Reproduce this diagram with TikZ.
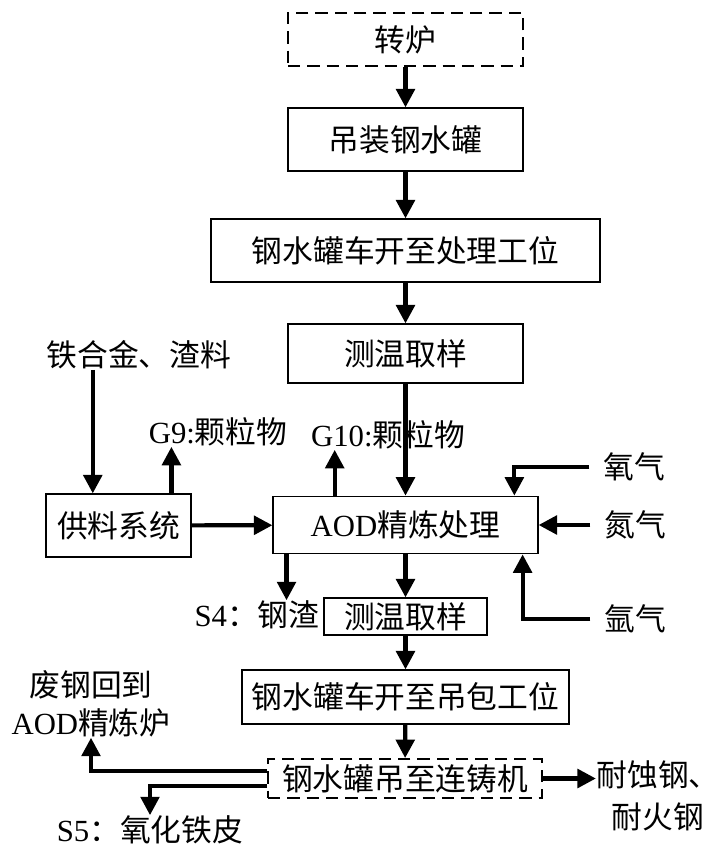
\documentclass[tikz,border=0pt]{standalone}
\usepackage{fontspec}
\setmainfont{Liberation Serif}
\newfontfamily\cjk{Noto Sans CJK SC}
\usetikzlibrary{arrows.meta, positioning, calc}
\tikzset{
  every picture/.style={font=\cjk\fontsize{17.5}{21.5}\selectfont, line width=0.7pt},
  box/.style={draw, inner sep=0pt, align=center},
  dbox/.style={box, line width=1.1pt, dash pattern=on 7pt off 4pt},
  arrow/.style={-{Triangle[length=10.5pt, width=10.5pt]}, line width=2.4pt},
  lbl/.style={inner sep=0pt, align=center},
  gas/.style={inner sep=7.5pt},
}

\begin{document}
\begin{tikzpicture}[x=0.02cm, y=-0.02cm]
  \useasboundingbox (0,0) rectangle (702,849);
  % main line
  \node[dbox, minimum width=4.7cm, minimum height=1.06cm] (zl) at (405.5,39.5) {转炉};
  \node[box, minimum width=4.7cm, minimum height=1.26cm] (dz) at (405.5,139.5) {吊装钢水罐};
  \node[box, minimum width=7.78cm, minimum height=1.26cm] (kc1) at (405.5,250.5) {钢水罐车开至处理工位};
  \node[box, minimum width=4.7cm, minimum height=1.18cm] (cw1) at (405.5,353.5) {测温取样};
  \node[box, minimum width=5.3cm, minimum height=1.15cm] (aod) at (405.5,525) {{\rmfamily AOD}精炼处理};
  \node[box, minimum width=2.9cm, minimum height=1.26cm] (feed) at (118.5,525.5) {供料系统};
  \node[box, minimum width=3.26cm, minimum height=0.74cm] (cw2) at (405.5,616.5) {测温取样};
  \node[box, minimum width=6.54cm, minimum height=1.08cm] (kc2) at (405.5,697) {钢水罐车开至吊包工位};
  \node[dbox, minimum width=5.48cm, minimum height=0.78cm] (lz) at (405,778.5) {钢水罐吊至连铸机};
  % side labels
  \node[lbl] (iron) at (139,355) {铁合金、渣料};
  \node[lbl] (g9) at (218,432) {{\rmfamily G9:}颗粒物};
  \node[lbl] (g10) at (388,435) {{\rmfamily G10:}颗粒物};
  \node[gas] (o2) at (634,467) {氧气};
  \node[gas] (n2) at (635,525) {氮气};
  \node[gas] (ar) at (635,619) {氩气};
  \node[lbl] (s4) at (257,615) {{\rmfamily S4}：钢渣};
  \node[lbl] (prod) at (658,796) {耐蚀钢、\\[0.08cm]耐火钢};
  \node[lbl] (scrap) at (91,704) {废钢回到\\{\rmfamily AOD}精炼炉};
  \node[lbl] (s5) at (150,830) {{\rmfamily S5}：氧化铁皮};
  % anchor points on the boxes
  \coordinate (feedin) at ($(feed.north west)!.324!(feed.north east)$);
  \coordinate (g9foot) at ($(feed.north west)!.862!(feed.north east)$);
  \coordinate (g10foot) at ($(aod.north west)!.234!(aod.north east)$);
  \coordinate (o2in) at ($(aod.north west)!.909!(aod.north east)$);
  \coordinate (arin) at ($(aod.south west)!.94!(aod.south east)$);
  \coordinate (slagout) at ($(aod.south west)!.053!(aod.south east)$);
  % connectors
  \draw[arrow] (zl) -- (dz);
  \draw[arrow] (dz) -- (kc1);
  \draw[arrow] (kc1) -- (cw1);
  \draw[arrow] (cw1.south) -- (cw1.south |- aod.north);
  \draw[arrow] (iron.south -| feedin) -- (feedin);
  \draw[arrow] (g9foot) -- (g9foot |- g9.south);
  \draw[arrow] (g10foot) -- (g10foot |- g10.south);
  \draw[arrow] (feed) -- (aod);
  \draw[arrow] (o2.west) -| (o2in);
  \draw[arrow] (n2) -- (aod);
  \draw[arrow] (ar.west) -| (arin);
  \draw[arrow] (slagout) -- (slagout |- s4.north);
  \draw[arrow] (aod.south -| cw2.north) -- (cw2.north);
  \draw[arrow] (cw2) -- (kc2);
  \draw[arrow] (kc2) -- (lz);
  \draw[arrow] (lz.east) -- (lz.east -| prod.west);
  \draw[arrow] ($(lz.west)+(0,-7.5)$) -| (scrap.south);
  \draw[arrow] ($(lz.west)+(0,7.5)$) -| (s5.north);
\end{tikzpicture}
\end{document}
